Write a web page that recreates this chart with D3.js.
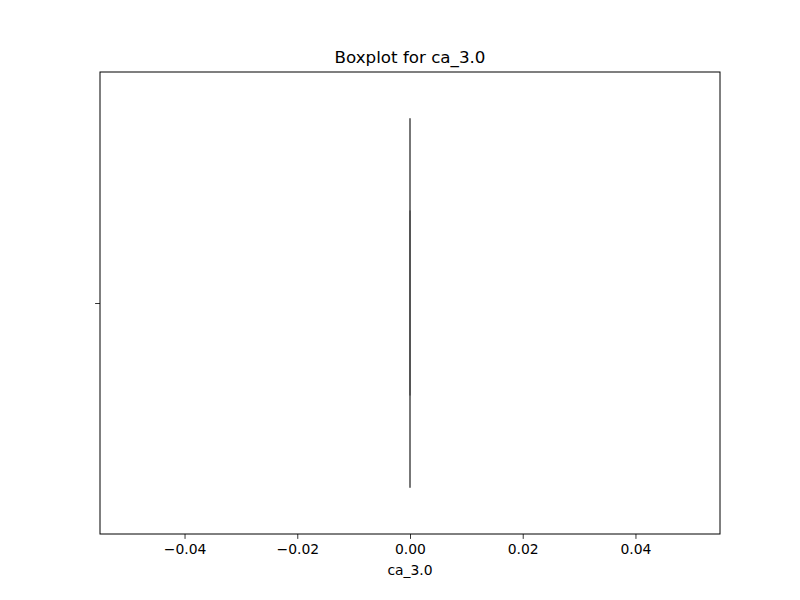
<!DOCTYPE html>
<html>
<head>
<meta charset="utf-8">
<script src="https://cdn.jsdelivr.net/npm/d3@7"></script>
<style>
  body { margin: 0; background: #fff; }
  text { font-family: "DejaVu Sans", sans-serif; fill: #000; }
</style>
</head>
<body>
<svg width="800" height="600"></svg>
<script>
const width = 800
const height = 600
const margin = {top: 72, right: 80, bottom: 66, left: 100}

// the column only holds zeros
const variable = "ca_3.0"
const values = [0, 0, 0, 0, 0, 0, 0, 0, 0, 0, 0, 0, 0, 0, 0, 0, 0, 0, 0, 0]
const xDomain = [-0.055, 0.055]
const xTicks = [-0.04, -0.02, 0, 0.02, 0.04]

const svg = d3.select("svg")

const x = d3.scaleLinear()
  .domain(xDomain)
  .range([margin.left, width - margin.right])

const y = d3.scaleLinear()
  .domain([-0.5, 0.5])
  .range([margin.top, height - margin.bottom])

const sorted = values.slice().sort(d3.ascending)
const q1 = d3.quantile(sorted, 0.25)
const med = d3.quantile(sorted, 0.5)
const q3 = d3.quantile(sorted, 0.75)
const iqr = q3 - q1
const lo = d3.min(sorted.filter(v => v >= q1 - 1.5 * iqr))
const hi = d3.max(sorted.filter(v => v <= q3 + 1.5 * iqr))

const boxW = 0.8
const capW = 0.4
const edge = "#3f3f3f"
const lw = 1.9

const g = svg.append("g")

// whiskers
g.selectAll("line.whisker")
  .data([[lo, q1], [q3, hi]])
  .join("line")
  .attr("class", "whisker")
  .attr("x1", d => x(d[0]))
  .attr("x2", d => x(d[1]))
  .attr("y1", y(0))
  .attr("y2", y(0))
  .attr("stroke", edge)
  .attr("stroke-opacity", 0.75)
  .attr("stroke-width", lw)

// box as a path, so a zero-width box still draws its edges
const p = d3.path()
p.rect(x(q1), y(-boxW / 2), x(q3) - x(q1), y(boxW / 2) - y(-boxW / 2))
g.append("path")
  .attr("d", p.toString())
  .attr("fill", "#5975a4")
  .attr("stroke", edge)
  .attr("stroke-opacity", 0.7)
  .attr("stroke-width", lw)

// caps
g.selectAll("line.cap")
  .data([lo, hi])
  .join("line")
  .attr("class", "cap")
  .attr("x1", d => x(d))
  .attr("x2", d => x(d))
  .attr("y1", y(-capW / 2))
  .attr("y2", y(capW / 2))
  .attr("stroke", edge)
  .attr("stroke-opacity", 0.35)
  .attr("stroke-width", lw)

// median
g.append("line")
  .attr("x1", x(med))
  .attr("x2", x(med))
  .attr("y1", y(-boxW / 2))
  .attr("y2", y(boxW / 2))
  .attr("stroke", edge)
  .attr("stroke-opacity", 0.1)
  .attr("stroke-width", lw)

// frame
svg.append("rect")
  .attr("x", margin.left)
  .attr("y", margin.top)
  .attr("width", width - margin.left - margin.right)
  .attr("height", height - margin.top - margin.bottom)
  .attr("fill", "none")
  .attr("stroke", "#000")
  .attr("stroke-width", 1)

// x axis
const xAxis = svg.append("g")
  .attr("transform", `translate(0,${height - margin.bottom})`)
  .call(d3.axisBottom(x).tickValues(xTicks).tickSize(4.9).tickPadding(4.9)
    .tickFormat(d => d3.format(".2f")(d).replace("-", "\u2212")))
xAxis.select(".domain").remove()
xAxis.selectAll("text").style("font-size", "13.9px").style("font-family", "DejaVu Sans")
xAxis.selectAll("line").attr("stroke", "#000").attr("stroke-width", 0.8)

// y axis: single tick, no label
const yAxis = svg.append("g")
  .attr("transform", `translate(${margin.left},0)`)
  .call(d3.axisLeft(y).tickValues([0]).tickSize(4.9).tickFormat(""))
yAxis.select(".domain").remove()
yAxis.selectAll("line").attr("stroke", "#000").attr("stroke-width", 0.8)

svg.append("text")
  .attr("x", x(0))
  .attr("y", 575)
  .attr("text-anchor", "middle")
  .style("font-size", "13.9px")
  .text(variable)

svg.append("text")
  .attr("x", x(0))
  .attr("y", 63)
  .attr("text-anchor", "middle")
  .style("font-size", "16.7px")
  .text("Boxplot for " + variable)
</script>
</body>
</html>
